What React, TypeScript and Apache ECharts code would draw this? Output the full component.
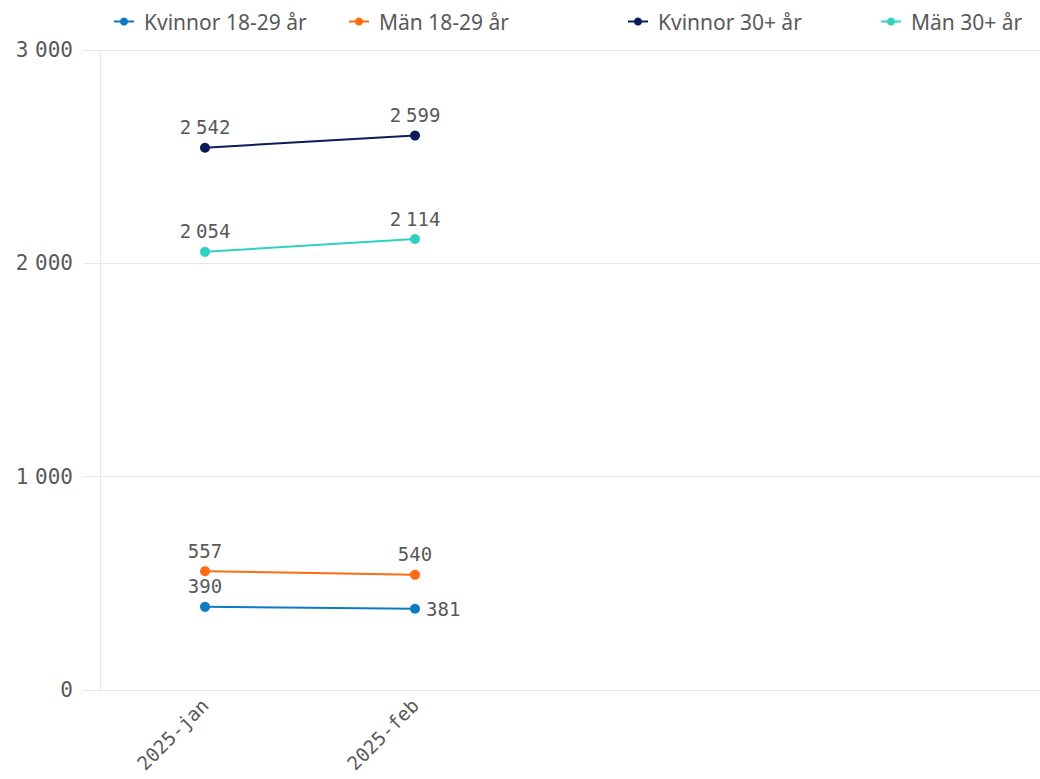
import React, { useEffect, useRef } from "react";
import * as echarts from "echarts";

const categories = ["2025-jan", "2025-feb"];
const seriesNames = ["Kvinnor 18-29 år", "Män 18-29 år", "Kvinnor 30+ år", "Män 30+ år"];
const kvinnor1829 = [390, 381];
const man1829 = [557, 540];
const kvinnor30 = [2542, 2599];
const man30 = [2054, 2114];
const yTicks = [0, 1000, 2000, 3000];

const colors = ["#0b7bc4", "#ff6b12", "#0c1c5a", "#2fd1c1"];
const legendLefts = [108, 343, 622, 875];

const fmt = (v: number) => {
  const s = String(Math.round(v));
  return s.replace(/\B(?=(\d{3})+(?!\d))/g, "{s| }");
};

export default function App() {
  const ref = useRef<HTMLDivElement>(null);
  useEffect(() => {
    if (!ref.current) return;
    const chart = echarts.init(ref.current, undefined, { renderer: "svg" });
    const values = [kvinnor1829, man1829, kvinnor30, man30];
    const mono = "DejaVu Sans Mono";
    const textColor = "#595959";
    const gridColor = "#e8e8e8";
    const spaceRich = (size: number) => ({
      s: { fontFamily: "Noto Sans", fontSize: size, color: textColor },
    });
    chart.setOption({
      animation: false,
      backgroundColor: "#ffffff",
      legend: seriesNames.map((n, i) => ({
        data: [n],
        left: legendLefts[i],
        top: 6,
        itemWidth: 20,
        itemHeight: 10,
        selectedMode: false,
        textStyle: {
          fontFamily: "Noto Sans",
          fontSize: 21,
          color: textColor,
          padding: [0, 0, 0, 5],
        },
      })),
      grid: { left: 100, top: 50, width: 940, height: 640, containLabel: false },
      xAxis: {
        type: "value",
        min: -0.5,
        max: 3.976,
        splitLine: { show: false },
        axisLine: { show: false },
        axisTick: { show: false },
        axisLabel: {
          customValues: categories.map((_, i) => i),
          formatter: (v: number) => categories[Math.round(v)] ?? "",
          rotate: 45,
          fontFamily: mono,
          fontSize: 19,
          color: textColor,
          margin: 12,
        },
      },
      yAxis: {
        type: "value",
        min: yTicks[0],
        max: yTicks[yTicks.length - 1],
        interval: 1000,
        axisLine: { show: true, onZero: false, lineStyle: { color: gridColor, width: 1 } },
        axisTick: { show: true, length: 17, lineStyle: { color: gridColor, width: 1 } },
        splitLine: { show: true, lineStyle: { color: gridColor, width: 1 } },
        axisLabel: {
          formatter: (v: number) => fmt(v),
          fontFamily: mono,
          fontSize: 21,
          color: textColor,
          margin: 27,
          rich: spaceRich(26),
        },
      },
      series: seriesNames.map((n, i) => ({
        name: n,
        type: "line",
        data: values[i].map((v, j) =>
          i === 0 && j === 1
            ? { value: [j, v], label: { position: "right", distance: 6 } }
            : { value: [j, v] }
        ),
        color: colors[i],
        symbol: "circle",
        symbolSize: 10,
        lineStyle: { width: 2, color: colors[i] },
        itemStyle: { color: colors[i] },
        label: {
          show: true,
          position: "top",
          distance: 6,
          formatter: (p: any) => fmt(p.value[1]),
          fontFamily: mono,
          fontSize: 19,
          color: textColor,
          rich: spaceRich(19),
        },
      })),
    });
    return () => chart.dispose();
  }, []);
  return (
    <div
      ref={ref}
      style={{ position: "absolute", left: 0, top: 0, width: 1040, height: 779 }}
    />
  );
}
